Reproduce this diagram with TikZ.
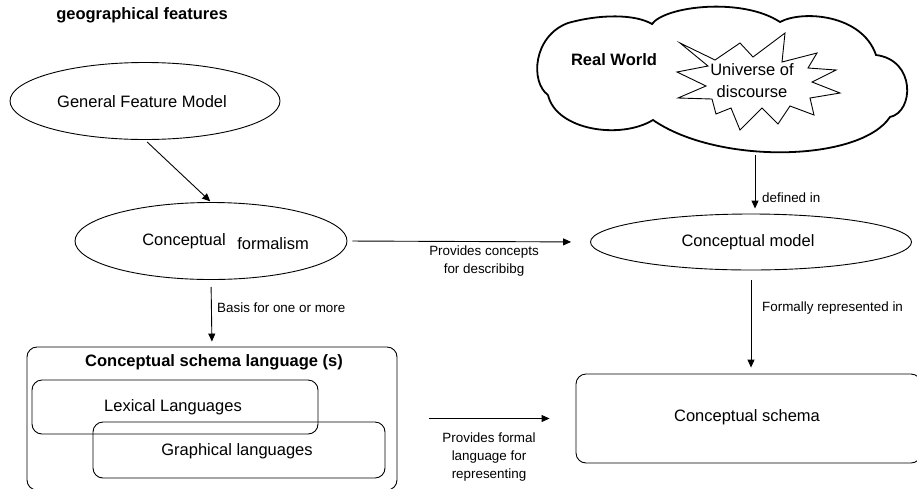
\documentclass[tikz,border=0pt]{standalone}
\usepackage{fontspec}
\setmainfont{Liberation Sans}
\usetikzlibrary{shapes.geometric,arrows.meta}
\begin{document}
\begin{tikzpicture}[x=1pt,y=-1pt,
  main/.style={font=\fontsize{16.5}{22}\selectfont, inner sep=0pt, align=center},
  bold/.style={font=\fontsize{16.5}{22}\selectfont\bfseries, inner sep=0pt},
  lbl/.style={font=\fontsize{13.4}{18}\selectfont, inner sep=0pt, align=center},
  oval/.style={draw, ellipse, line width=0.9pt, inner sep=0pt},
  rbox/.style={draw, rounded corners=10pt, line width=0.9pt, inner sep=0pt},
  conn/.style={-{Triangle[length=8pt,width=7pt]}, line width=0.9pt},
]
\useasboundingbox (0,0) rectangle (917,488);
\clip (0,0) rectangle (917,488);

% heading
\node[bold] (title) at (142,15) {geographical features};

% upper left: feature model and formalism
\node[oval, minimum width=270pt, minimum height=77pt] (gfm) at (145,101) {};
\node[main] (gfmtext) at (142,102) {General Feature Model};

\node[oval, minimum width=272pt, minimum height=77pt] (cf) at (211,241) {};
\node[main] (cftexta) at (184,241) {Conceptual};
\node[main] (cftextb) at (273,244) {formalism};

% schema languages
\node[rbox, minimum width=370pt, minimum height=143pt] (csl) at (212,418.5) {};
\node[bold] (csltitle) at (214,362) {Conceptual schema language (s)};
\node[rbox, minimum width=286pt, minimum height=54pt] (lex) at (175,407) {};
\node[rbox, minimum width=292pt, minimum height=56pt] (gra) at (239,450) {};
\node[main] (lextext) at (173,407) {Lexical Languages};
\node[main] (gratext) at (237,451) {Graphical languages};

% real world cloud
\draw[line width=1.8pt]
  (548,95) .. controls (530,82) and (533,36) .. (568,23)
  .. controls (600,14) and (635,14) .. (652,24)
  .. controls (665,6) and (742,-3) .. (780,22)
  .. controls (802,10) and (862,14) .. (876,55)
  .. controls (916,60) and (914,112) .. (890,117)
  .. controls (860,162) and (718,165) .. (653,120)
  .. controls (620,140) and (556,130) .. (548,95);
\coordinate (cloudbot) at (755,155);
\node[bold] (rw) at (614,60) {Real World};

% universe of discourse burst
\draw[line width=0.9pt]
  (680,43) -- (715,60) -- (740,43) -- (753,57) -- (785,33) -- (782,62)
  -- (817,53) -- (808,68) -- (836,70) -- (812,82) -- (840,93) -- (810,98)
  -- (814,115) -- (790,106) -- (778,124) -- (762,108) -- (740,130)
  -- (731,108) -- (716,114) -- (712,99) -- (678,98) -- (706,86)
  -- (677,72) -- (708,66) -- cycle;
\node[main] (uod) at (752,81) {Universe of\\discourse};

% right column
\node[oval, minimum width=321pt, minimum height=56pt] (cm) at (751,242) {};
\node[main] (cmtext) at (748,242) {Conceptual model};

\node[rbox, minimum width=345pt, minimum height=89pt] (cs) at (748.5,418.5) {};
\node[main] (cstext) at (747,417) {Conceptual schema};

% connectors
\draw[conn, shorten <=3pt, shorten >=1pt] (gfm.south) -- (cf.north);
\draw[conn, shorten <=7pt, shorten >=5pt] (cf.south) -- (csl.north);
\node[lbl, anchor=west] (basis) at (217,308) {Basis for one or more};

\draw[conn, shorten <=5pt, shorten >=19pt] (cf.east) -- (cm.west);
\node[lbl] (pc) at (484,261) {Provides concepts\\for describibg};

\draw[conn, shorten >=5pt] (cloudbot) -- (cloudbot |- cm.north);
\node[lbl, anchor=west] (def) at (762,198) {defined in};

\draw[conn, shorten <=10pt, shorten >=6pt] (cm.south) -- (cm.south |- cs.north);
\node[lbl, anchor=west] (fri) at (762,308) {Formally represented in};

\draw[conn, shorten <=32pt, shorten >=26pt] (csl.east) -- (cs.west);
\node[lbl] (pf) at (489,457) {Provides formal\\language for\\representing};

\end{tikzpicture}
\end{document}
